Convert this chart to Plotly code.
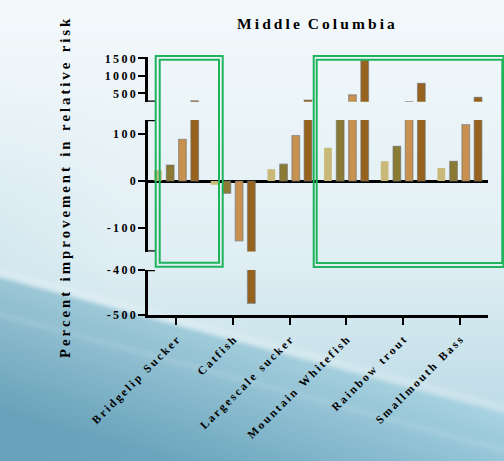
import base64, struct, zlib
import numpy as np
import plotly.graph_objects as go

# ---------------- data ----------------
categories = ["Bridgelip Sucker", "Catfish", "Largescale sucker",
              "Mountain Whitefish", "Rainbow trout", "Smallmouth Bass"]
series1 = [23, -8, 25, 71, 42, 28]
series2 = [34, -26, 36, 180, 74, 42]
series3 = [89, -127, 97, 460, 268, 120]
series4 = [290, -474, 310, 1450, 789, 389]
series_all = [series1, series2, series3, series4]
colors = ["#c8b978", "#8b7a34", "#c89150", "#96621e"]

top_ticks = [500, 1000, 1500]
mid_ticks = [-100, 0, 100]
bot_ticks = [-500, -400]


def spaced(s, gap="\u2009", wordgap="\u2009\u2002"):
    return wordgap.join(gap.join(list(w)) for w in s.split(" "))


# ---------------- background image ----------------
W, H = 252, 231
X = np.linspace(0, 504, W)[None, :].repeat(H, 0)
Y = np.linspace(0, 461, H)[:, None].repeat(W, 1)


def lerp(a, b, t):
    t = np.clip(t, 0, 1)[..., None]
    return np.array(a, float) * (1 - t) + np.array(b, float) * t


base = lerp((244, 249, 251), (224, 239, 244), Y / 260)
base = np.where((Y > 260)[..., None], lerp((224, 239, 244), (188, 219, 230), (Y - 260) / 160), base)
base = base - (np.clip((120 - X) / 120, 0, 1) * np.clip((Y - 80) / 200, 0, 1))[..., None] * np.array([14, 8, 5])
d = Y - (275 + 0.27 * X)
dark = lerp((158, 200, 215), (104, 162, 186), d / 140)
dark = dark + (np.clip(X / 504, 0, 1) * 12)[..., None]
m = np.clip(d / 6, 0, 1)[..., None]
img = base * (1 - m) + dark * m
streak = (np.exp(-((d + 3) / 5) ** 2) * 0.2)[..., None]
img = img * (1 - streak) + 255 * streak
streak2 = (np.exp(-((d - 40) / 4) ** 2) * 0.1)[..., None]
img = img * (1 - streak2) + 255 * streak2
img = np.clip(img, 0, 255).astype(np.uint8)


def png_bytes(arr):
    h, w, _ = arr.shape
    raw = b"".join(b"\x00" + arr[r].tobytes() for r in range(h))

    def chunk(t, data):
        c = struct.pack(">I", len(data)) + t + data
        return c + struct.pack(">I", zlib.crc32(t + data) & 0xffffffff)

    return (b"\x89PNG\r\n\x1a\n" + chunk(b"IHDR", struct.pack(">IIBBBBB", w, h, 8, 2, 0, 0, 0))
            + chunk(b"IDAT", zlib.compress(raw, 9)) + chunk(b"IEND", b""))


bg_uri = "data:image/png;base64," + base64.b64encode(png_bytes(img)).decode()

# ---------------- figure ----------------
FW, FH = 504, 461
ML, MR, MT, MB = 148, 16, 50, 146
PW, PH = FW - ML - MR, FH - MT - MB


def px(x):
    return (x - ML) / PW


def py(y):
    return (FH - MB - y) / PH


fig = go.Figure()
width = 0.136
centers = [-0.324, -0.108, 0.108, 0.324]
for i, vals in enumerate(series_all):
    for ya in ["y", "y2", "y3"]:
        fig.add_trace(go.Bar(
            x=categories, y=vals, xaxis="x", yaxis=ya,
            width=width, offset=centers[i] - width / 2,
            marker=dict(color=colors[i],
                        line=dict(color="rgba(110,110,110,0.55)" if i else "rgba(0,0,0,0)", width=1.2)),
            showlegend=False, hoverinfo="skip"))

tickfont = dict(family="Liberation Serif", size=12, color="black", weight="bold")
axis_common = dict(showline=True, linewidth=2.5, linecolor="black", ticks="outside",
                   ticklen=7, tickwidth=2, tickcolor="black", showgrid=False,
                   tickfont=tickfont, anchor="x", fixedrange=True)

fig.update_layout(
    width=FW, height=FH,
    margin=dict(l=ML, r=MR, t=MT, b=MB),
    paper_bgcolor="rgba(0,0,0,0)", plot_bgcolor="rgba(0,0,0,0)",
    barmode="group", showlegend=False,
    xaxis=dict(range=[-0.5, 5.5], showline=True, linewidth=2.5, linecolor="black",
               ticks="outside", ticklen=7, tickwidth=2, tickcolor="black", showgrid=False,
               tickangle=-45, anchor="y", fixedrange=True, ticklabelstandoff=4,
               tickmode="array", tickvals=categories,
               ticktext=[spaced(c) for c in categories],
               tickfont=dict(family="Liberation Serif", size=11.5, color="black", weight="bold")),
    yaxis=dict(domain=[0, py(270)], range=[-500, -400], zeroline=False,
               tickmode="array", tickvals=bot_ticks, ticktext=[spaced(str(v)) for v in bot_ticks],
               **axis_common),
    yaxis2=dict(domain=[py(251.6), py(120)], range=[-150, 130], zeroline=True,
                zerolinecolor="black", zerolinewidth=2.5,
                tickmode="array", tickvals=mid_ticks, ticktext=[spaced(str(v)) for v in mid_ticks],
                **axis_common),
    yaxis3=dict(domain=[py(101.8), py(57)], range=[260, 1540], zeroline=False,
                tickmode="array", tickvals=top_ticks, ticktext=[spaced(str(v)) for v in top_ticks],
                **axis_common),
    images=[dict(source=bg_uri, xref="paper", yref="paper", x=px(0), y=py(0),
                 sizex=px(FW) - px(0), sizey=py(0) - py(FH), sizing="stretch",
                 xanchor="left", yanchor="top", layer="below")],
)

# break caps
shapes = []
for ref, yv in [("y", -400), ("y2", -150), ("y2", 130), ("y3", 260)]:
    shapes.append(dict(type="line", xref="paper", yref=ref, x0=px(146), x1=px(155),
                       y0=yv, y1=yv, line=dict(color="black", width=2.5)))
# green highlight boxes (double outlines)
green = "#1fb45c"
for (x0, x1, y0, y1) in [(155.7, 222.7, 56, 266.7), (159.7, 219, 59.7, 262.7),
                         (313.7, 503.5, 56, 267), (316.7, 502.3, 59.7, 263)]:
    shapes.append(dict(type="rect", xref="paper", yref="paper", x0=px(x0), x1=px(x1),
                       y0=py(y1), y1=py(y0), line=dict(color=green, width=2),
                       fillcolor="rgba(0,0,0,0)", layer="above"))
fig.update_layout(shapes=shapes)

fig.add_annotation(text=spaced("Middle Columbia", "\u2009", "\u2002"), xref="paper", yref="paper",
                   x=px(316), y=py(23), showarrow=False, xanchor="center", yanchor="middle",
                   font=dict(family="Liberation Serif", size=15.5, color="black", weight="bold"))
fig.add_annotation(text=spaced("Percent improvement in relative risk"),
                   xref="paper", yref="paper",
                   x=px(65), y=py(188), showarrow=False, textangle=-90,
                   xanchor="center", yanchor="middle",
                   font=dict(family="Liberation Serif", size=14.8, color="black", weight="bold"))

fig.write_html("out.html", config={"displayModeBar": False},
               post_script="document.body.style.margin='0px';document.body.style.overflow='hidden';")
